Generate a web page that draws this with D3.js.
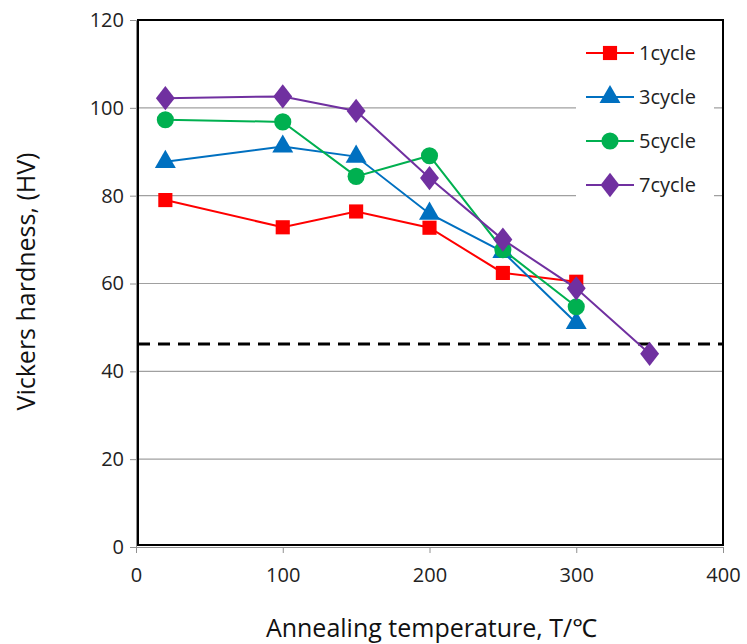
<!DOCTYPE html>
<html>
<head>
<meta charset="utf-8">
<script src="https://cdn.jsdelivr.net/npm/d3@7"></script>
<style>
body { margin: 0; background: #fff; }
text { font-family: "Open Sans", "Noto Sans", sans-serif; }
</style>
</head>
<body>
<div id="chart"></div>
<script>
const temps = [20, 100, 150, 200, 250, 300]
const temps7 = [20, 100, 150, 200, 250, 300, 350]
const cycle1 = [79.0, 72.8, 76.4, 72.7, 62.4, 60.4]
const cycle3 = [87.7, 91.2, 88.9, 75.9, 67.2, 51.0]
const cycle5 = [97.3, 96.8, 84.4, 89.1, 67.7, 54.7]
const cycle7 = [102.2, 102.6, 99.3, 84.0, 70.0, 58.9, 44.0]
const limitHV = 46.2
const xTicks = [0, 100, 200, 300, 400]
const yTicks = [0, 20, 40, 60, 80, 100, 120]

const width = 747
const height = 644
const margin = { top: 20, left: 136, right: 24, bottom: 97 }
const plotW = width - margin.left - margin.right
const plotH = height - margin.top - margin.bottom

const series = [
  { name: '1cycle', x: temps, y: cycle1, color: '#ff0000', shape: 'square' },
  { name: '3cycle', x: temps, y: cycle3, color: '#0070c0', shape: 'triangle' },
  { name: '5cycle', x: temps, y: cycle5, color: '#00b050', shape: 'circle' },
  { name: '7cycle', x: temps7, y: cycle7, color: '#7030a0', shape: 'diamond' }
]

let svg = d3.select('#chart').append('svg')
  .attr('width', width).attr('height', height)
let g = svg.append('g').attr('transform', `translate(${margin.left},${margin.top})`)

let xScale = d3.scaleLinear().domain([0, 400]).range([0, plotW])
let yScale = d3.scaleLinear().domain([0, 120]).range([plotH, 0])

// gridlines
g.selectAll('.grid').data(yTicks.slice(1, -1)).enter().append('line')
  .attr('x1', 0).attr('x2', plotW)
  .attr('y1', d => yScale(d)).attr('y2', d => yScale(d))
  .style('stroke', '#a0a0a0').style('stroke-width', 1.2)

// axes
let yAxis = g.append('g').call(d3.axisLeft(yScale).tickValues(yTicks).tickSize(6).tickPadding(6))
let xAxis = g.append('g').attr('transform', `translate(0,${plotH})`)
  .call(d3.axisBottom(xScale).tickValues(xTicks).tickSize(6).tickPadding(15))
;[xAxis, yAxis].forEach(a => {
  a.select('.domain').style('stroke', '#909090').style('stroke-width', 1)
  a.selectAll('.tick line').style('stroke', '#909090')
  a.selectAll('.tick text').style('font-size', '20px').style('fill', '#222')
})

// plot border
g.append('rect')
  .attr('x', 2).attr('y', 0).attr('width', plotW - 2).attr('height', plotH - 2)
  .style('fill', 'none').style('stroke', '#000').style('stroke-width', 2)

// legend background
let legX = 440, legY = 30
g.append('rect').attr('x', legX).attr('y', legY)
  .attr('width', 138).attr('height', 180).style('fill', '#fff')

// dashed limit line
g.append('line')
  .attr('x1', 2).attr('x2', plotW)
  .attr('y1', yScale(limitHV)).attr('y2', yScale(limitHV))
  .style('stroke', '#000').style('stroke-width', 3)
  .style('stroke-dasharray', '12,8')

let symbolFor = function (shape) {
  if (shape === 'square') return d3.symbol().type(d3.symbolSquare).size(200)
  if (shape === 'triangle') return d3.symbol().type(d3.symbolTriangle).size(190)
  if (shape === 'circle') return d3.symbol().type(d3.symbolCircle).size(230)
  return d3.symbol().type(d3.symbolDiamond).size(170)
}

let line = d3.line().x(d => xScale(d[0])).y(d => yScale(d[1]))

series.forEach(s => {
  let pts = s.x.map((v, i) => [v, s.y[i]])
  g.append('path').datum(pts)
    .attr('d', line)
    .style('fill', 'none').style('stroke', s.color).style('stroke-width', 2)
  g.selectAll(null).data(pts).enter().append('path')
    .attr('d', symbolFor(s.shape))
    .attr('transform', d => `translate(${xScale(d[0])},${yScale(d[1])})${s.shape === 'diamond' ? ' scale(1.35,1)' : ''}`)
    .style('fill', s.color)
})

// legend
series.forEach((s, i) => {
  let ly = 33 + i * 44
  let row = g.append('g').attr('transform', `translate(${legX + 10},${ly})`)
  row.append('line').attr('x1', 0).attr('x2', 48).attr('y1', 0).attr('y2', 0)
    .style('stroke', s.color).style('stroke-width', 2)
  row.append('path').attr('d', symbolFor(s.shape))
    .attr('transform', `translate(24,0)${s.shape === 'diamond' ? ' scale(1.35,1)' : ''}`)
    .style('fill', s.color)
  row.append('text').attr('x', 53).attr('y', 0).attr('dy', '0.35em')
    .style('font-size', '20px').style('fill', '#222').text(s.name)
})

// axis titles
svg.append('text')
  .attr('x', margin.left + plotW / 2 + 2).attr('y', 637)
  .attr('text-anchor', 'middle').style('font-size', '25px').style('fill', '#111')
  .text('Annealing temperature, T/℃')
svg.append('text')
  .attr('transform', `translate(35,${margin.top + plotH / 2 - 2}) rotate(-90)`)
  .attr('text-anchor', 'middle').style('font-size', '25px').style('fill', '#111')
  .text('Vickers hardness, (HV)')
</script>
</body>
</html>
